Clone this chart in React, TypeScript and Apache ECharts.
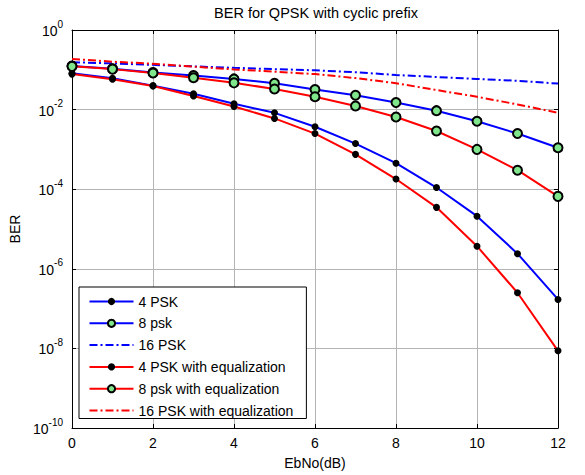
import React, { useEffect, useRef } from "react";
import * as echarts from "echarts";

const ebno = [0, 1, 2, 3, 4, 5, 6, 7, 8, 9, 10, 11, 12];
const psk4 = [0.082, 0.061, 0.040, 0.025, 0.014, 0.0083, 0.0037, 0.0014, 0.00045, 1.1e-4, 2.1e-5, 2.4e-6, 1.7e-7];
const psk8 = [0.125, 0.106, 0.085, 0.072, 0.059, 0.046, 0.032, 0.023, 0.015, 0.0094, 0.0051, 0.0025, 0.0011];
const psk16 = [0.155, 0.145, 0.133, 0.122, 0.112, 0.104, 0.097, 0.087, 0.074, 0.066, 0.059, 0.053, 0.045];
const psk4eq = [0.078, 0.058, 0.039, 0.022, 0.012, 0.006, 0.0025, 7.5e-4, 1.8e-4, 3.5e-5, 3.7e-6, 2.5e-7, 8.7e-9];
const psk8eq = [0.122, 0.104, 0.083, 0.063, 0.047, 0.033, 0.021, 0.0123, 0.0065, 0.0029, 0.001, 3.0e-4, 6.6e-5];
const psk16eq = [0.187, 0.16, 0.142, 0.12, 0.102, 0.09, 0.078, 0.062, 0.046, 0.031, 0.021, 0.0135, 0.0083];

const names = [
  "4 PSK",
  "8 psk",
  "16 PSK",
  "4 PSK with equalization",
  "8 psk with equalization",
  "16 PSK with equalization",
];

const FONT = "'Liberation Sans', Arial, sans-serif";
const BLUE = "#0000ff";
const RED = "#ff0000";
const GREEN = "#80e68c";
const DASHDOT = [8, 3, 2, 3];

const pairs = (ys: number[]) => ebno.map((x, i) => [x, ys[i]]);

export default function App() {
  const ref = useRef<HTMLDivElement>(null);
  useEffect(() => {
    const chart = echarts.init(ref.current!, null, { renderer: "svg" });

    const dotSeries = (name: string, ys: number[], color: string) => ({
      name,
      type: "line",
      data: pairs(ys),
      symbol: "circle",
      symbolSize: 7,
      showSymbol: true,
      lineStyle: { color, width: 2 },
      itemStyle: { color: "#000", borderWidth: 0 },
    });
    const ringSeries = (name: string, ys: number[], color: string) => ({
      name,
      type: "line",
      data: pairs(ys),
      symbol: "circle",
      symbolSize: 9,
      showSymbol: true,
      lineStyle: { color, width: 2 },
      itemStyle: { color: GREEN, borderColor: "#000", borderWidth: 2 },
    });
    const dashSeries = (name: string, ys: number[], color: string) => ({
      name,
      type: "line",
      data: pairs(ys),
      symbol: "none",
      lineStyle: { color, width: 2, type: DASHDOT },
      itemStyle: { color },
    });

    const logLabel = (v: number) => {
      const e = Math.round(Math.log10(v));
      return `{b|10}{s|${e}}`;
    };

    chart.setOption({
      animation: false,
      backgroundColor: "#fff",
      textStyle: { fontFamily: FONT },
      title: {
        text: "BER for QPSK with cyclic prefix",
        left: 316,
        top: 5,
        textAlign: "center",
        padding: 0,
        textStyle: { fontFamily: FONT, fontSize: 14.5, fontWeight: "normal", color: "#000" },
      },
      grid: { left: 72, right: 27, top: 30, bottom: 45 },
      legend: {
        orient: "vertical",
        left: 79,
        top: 287,
        padding: [7.5, 13, 1, 9.5],
        itemWidth: 44,
        itemHeight: 9,
        itemGap: 7.8,
        backgroundColor: "#fff",
        borderColor: "#000",
        borderWidth: 1,
        borderRadius: 0,
        textStyle: { fontFamily: FONT, fontSize: 14, color: "#000" },
        data: names.map((n, i) =>
          i === 2 || i === 5 ? { name: n, itemStyle: { opacity: 0 } } : { name: n }
        ),
      },
      xAxis: [
        {
          type: "value",
          min: 0,
          max: 12,
          interval: 2,
          name: "EbNo(dB)",
          nameLocation: "middle",
          nameGap: 28,
          nameTextStyle: { fontFamily: FONT, fontSize: 14, color: "#000" },
          axisLine: { show: true, lineStyle: { color: "#000", width: 1 } },
          axisTick: { inside: true, length: 4, lineStyle: { color: "#000" } },
          axisLabel: { fontFamily: FONT, fontSize: 14, color: "#000", margin: 8 },
          splitLine: { show: true, lineStyle: { color: "#b4b4b4", width: 1 } },
        },
        {
          type: "value",
          position: "top",
          min: 0,
          max: 12,
          interval: 2,
          axisLine: { show: true, onZero: false, lineStyle: { color: "#000", width: 1 } },
          axisTick: { inside: true, length: 4, lineStyle: { color: "#000" } },
          axisLabel: { show: false },
          splitLine: { show: false },
        },
      ],
      yAxis: [
        {
          type: "log",
          logBase: 10,
          min: 1e-10,
          max: 1,
          interval: 2,
          name: "BER",
          nameLocation: "middle",
          nameGap: 47,
          nameTextStyle: { fontFamily: FONT, fontSize: 14, color: "#000" },
          axisLine: { show: true, lineStyle: { color: "#000", width: 1 } },
          axisTick: { inside: true, length: 4, lineStyle: { color: "#000" } },
          axisLabel: {
            formatter: logLabel,
            margin: 9,
            padding: [0, 0, 3, 0],
            rich: {
              b: { fontFamily: FONT, fontSize: 14, color: "#000", verticalAlign: "bottom" },
              s: { fontFamily: FONT, fontSize: 10, color: "#000", verticalAlign: "bottom", padding: [0, 0, 9, 0] },
            },
          },
          splitLine: { show: true, lineStyle: { color: "#b4b4b4", width: 1 } },
          minorTick: { show: false },
        },
        {
          type: "log",
          logBase: 10,
          position: "right",
          min: 1e-10,
          max: 1,
          interval: 2,
          axisLine: { show: true, onZero: false, lineStyle: { color: "#000", width: 1 } },
          axisTick: { inside: true, length: 4, lineStyle: { color: "#000" } },
          axisLabel: { show: false },
          splitLine: { show: false },
        },
      ],
      series: [
        dotSeries(names[0], psk4, BLUE),
        ringSeries(names[1], psk8, BLUE),
        dashSeries(names[2], psk16, BLUE),
        dotSeries(names[3], psk4eq, RED),
        ringSeries(names[4], psk8eq, RED),
        dashSeries(names[5], psk16eq, RED),
      ],
    });
    return () => chart.dispose();
  }, []);
  return (
    <div
      ref={ref}
      style={{ position: "fixed", left: 0, top: 0, width: 585, height: 475 }}
    />
  );
}
